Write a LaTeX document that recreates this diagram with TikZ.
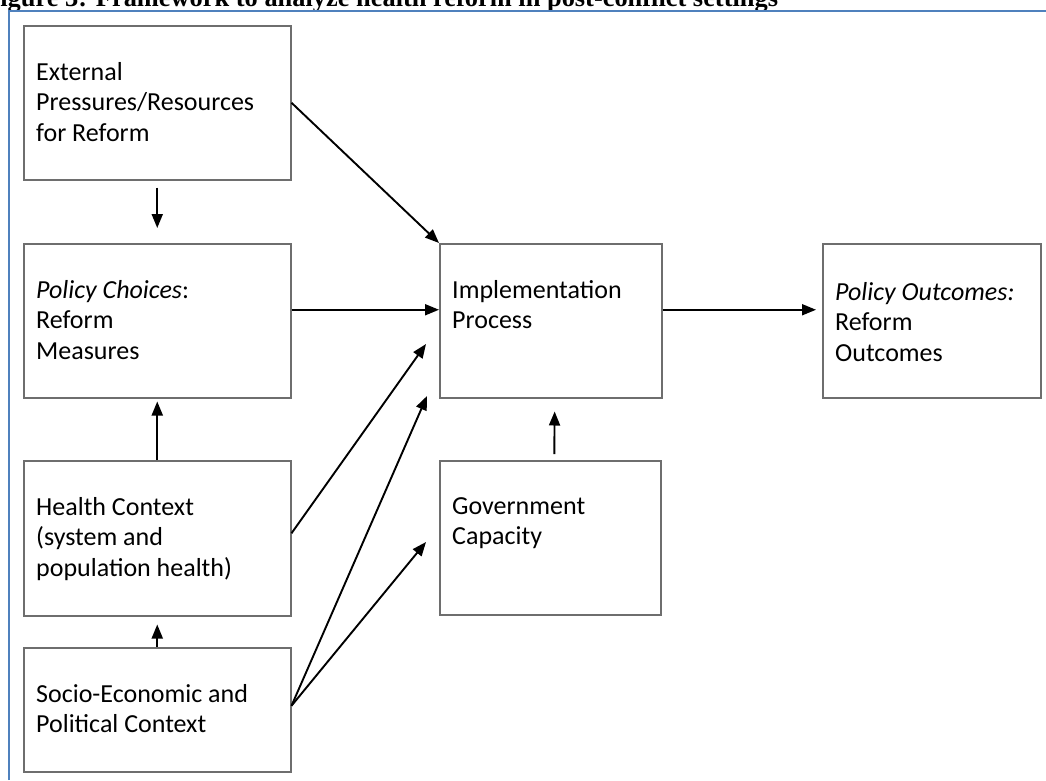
\documentclass[tikz,border=0pt]{standalone}
\usepackage{fontspec}
\setmainfont{Carlito}
\newfontfamily\titlefont{Liberation Serif}
\usetikzlibrary{positioning,arrows.meta}
\definecolor{framecol}{RGB}{79,129,189}
\definecolor{boxcol}{RGB}{110,110,110}
\tikzset{
  box/.style={draw=boxcol, line width=1.5pt, inner sep=0pt, anchor=north west},
  txt/.style={inner sep=0pt, align=left, font=\fontsize{26}{30.5}\selectfont},
  conn/.style={-{Triangle[length=14pt,width=11pt]}, line width=1.9pt}
}
\begin{document}
\begin{tikzpicture}[x=1pt, y=-1pt]
  \useasboundingbox (0,0) rectangle (1046,780);
  \clip (0,0) rectangle (1046,780);

  % caption, cut off by the page
  \node[anchor=base west, inner sep=0pt, font=\titlefont\bfseries\fontsize{26.4}{30}\selectfont]
    (title) at (-16,6) {Figure 3: Framework to analyze health reform in post-conflict settings};
  \draw[framecol, line width=2pt] (8.5,780) |- (1046,11);

  % boxes
  \node[box, minimum width=267pt, minimum height=154pt] (ext) at (23,25) {};
  \node[box, minimum width=267pt, minimum height=154pt] (pol) at (23,243) {};
  \node[box, minimum width=267pt, minimum height=155pt] (hlth) at (23,460) {};
  \node[box, minimum width=267pt, minimum height=124pt] (socio) at (23,647) {};
  \node[box, minimum width=222pt, minimum height=154pt] (impl) at (439,243) {};
  \node[box, minimum width=221pt, minimum height=154pt] (gov) at (439,460) {};
  \node[box, minimum width=218pt, minimum height=154pt] (outc) at (822,243) {};

  % box texts
  \node[txt, below right=37pt and 13pt of ext.north west] (extT)
    {External\\Pressures/Resources\\for Reform};
  \node[txt, below right=37pt and 13pt of pol.north west] (polT)
    {\textit{Policy Choices}:\\Reform\\Measures};
  \node[txt, below right=37pt and 13pt of hlth.north west] (hlthT)
    {Health Context\\(system and\\population health)};
  \node[txt, below right=37pt and 13pt of socio.north west] (socioT)
    {Socio-Economic and\\Political Context};
  \node[txt, below right=37pt and 13pt of impl.north west] (implT)
    {Implementation\\Process};
  \node[txt, below right=37pt and 13pt of gov.north west] (govT)
    {Government\\Capacity};
  \node[txt, below right=39pt and 13pt of outc.north west] (outcT)
    {\textit{Policy Outcomes:}\\Reform\\Outcomes};

  % free ends of the slanted arrows
  \coordinate (hTip) at (426,344);
  \coordinate (sTip) at (427,396);
  \coordinate (gTip) at (426,542);

  % connectors
  \draw[conn] (ext.east) -- (impl.north west);
  \draw[conn, shorten <=7pt, shorten >=15pt] (ext.south) -- (pol.north);
  \draw[conn] ([yshift=11pt]pol.east) -- ([yshift=11pt]impl.west);
  \draw[conn, shorten >=3pt] (hlth.north) -- (pol.south);
  \draw[conn, shorten >=8pt] (socio.north) -- (hlth.south);
  \draw[conn] ([yshift=5pt]hlth.east) -- (hTip);
  \draw[conn] ([yshift=4pt]socio.east) -- (sTip);
  \draw[conn] ([yshift=4pt]socio.east) -- (gTip);
  \draw[conn, shorten <=6pt, shorten >=13pt] ([xshift=4pt]gov.north) -- ([xshift=4pt]impl.south);
  \draw[conn, shorten >=6pt] ([yshift=11pt]impl.east) -- ([yshift=11pt]outc.west);
\end{tikzpicture}
\end{document}
